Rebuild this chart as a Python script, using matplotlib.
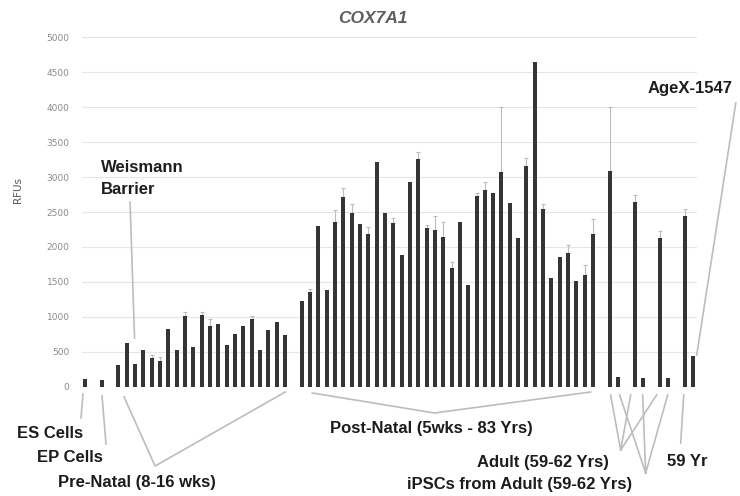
import numpy as np
import matplotlib
matplotlib.use("Agg")
import matplotlib.pyplot as plt

# ---------------- data ----------------
es_vals = [110]
ep_vals = [95]
prenatal_vals = [310, 630, 325, 525, 405, 372, 820, 525, 1010, 572, 1025,
                 868, 897, 597, 750, 868, 975, 525, 811, 921, 740]
prenatal_err = [0, 0, 0, 0, 50, 60, 0, 0, 60, 0, 40,
                100, 0, 0, 0, 0, 30, 0, 0, 0, 0]
postnatal_vals = [1226, 1360, 2300, 1384, 2362, 2710, 2481, 2324, 2185, 3211,
                  2481, 2347, 1885, 2934, 3258, 2267, 2242, 2138, 1694, 2362,
                  1455, 2729, 2815, 2767, 3077, 2633, 2123, 3162, 4642, 2538,
                  1551, 1851, 1918, 1512, 1598, 2185]
postnatal_err = [0, 40, 0, 0, 160, 130, 140, 0, 100, 0,
                 0, 70, 0, 0, 100, 50, 200, 220, 95, 0,
                 0, 50, 120, 0, 920, 0, 0, 105, 0, 75,
                 0, 0, 110, 0, 150, 210]
adult_vals = [3087, 2639, 2132]
adult_err = [920, 100, 90]
ipsc_vals = [135, 120, 120]
yr59_vals = [2443]
yr59_err = [100]
agex_vals = [444]

yticks = [0, 500, 1000, 1500, 2000, 2500, 3000, 3500, 4000, 4500, 5000]
title = "COX7A1"
ylabel = "RFUs"

# ---------------- layout ----------------
W, H = 740, 496
fig = plt.figure(figsize=(W / 100, H / 100), dpi=100)
ax = fig.add_axes([82 / W, 1 - 386.7 / H, (697 - 82) / W, (386.7 - 37.3) / H])

es_x = np.array([0])
ep_x = np.array([2])
pre_x = 4 + np.arange(len(prenatal_vals))
post_x = 26 + np.arange(len(postnatal_vals))
adult_x = np.array([63, 66, 69])
ipsc_x = np.array([64, 67, 70])
yr59_x = np.array([72])
agex_x = np.array([73])

bar_color = "#353535"
err_color = "#bcbcbc"
bw = 0.48

groups = [
    (es_x, es_vals, None),
    (ep_x, ep_vals, None),
    (pre_x, prenatal_vals, prenatal_err),
    (post_x, postnatal_vals, postnatal_err),
    (adult_x, adult_vals, adult_err),
    (ipsc_x, ipsc_vals, None),
    (yr59_x, yr59_vals, yr59_err),
    (agex_x, agex_vals, None),
]
for xs, vals, errs in groups:
    ax.bar(xs, vals, width=bw, color=bar_color, zorder=3)
    if errs is not None:
        xs_a = np.asarray(xs)
        v = np.asarray(vals, float)
        e = np.asarray(errs, float)
        m = e > 0
        if m.any():
            ax.errorbar(xs_a[m], v[m], yerr=[np.zeros(m.sum()), e[m]],
                        fmt="none", ecolor=err_color, elinewidth=0.8,
                        capsize=1.5, capthick=0.8, zorder=2)

ax.set_xlim(-0.36, 73.47)
ax.set_ylim(0, 5000)
ax.set_yticks(yticks)
ax.set_yticklabels([str(t) for t in yticks], fontsize=6.5, color="#8a8a8a",
                   family="DejaVu Sans")
ax.set_xticks([])
ax.tick_params(axis="y", length=0, pad=9)
for s in ax.spines.values():
    s.set_visible(False)
ax.grid(axis="y", color="#e6e6e6", linewidth=0.8, zorder=0)
ax.set_axisbelow(True)

fig.text(18 / W, 1 - 190 / H, ylabel, rotation=90, ha="center", va="center",
         fontsize=7.5, color="#555555", family="DejaVu Sans")
fig.text(373 / W, 1 - 18.5 / H, title, ha="center", va="center",
         fontsize=12.5, color="#5e5e5e", style="italic", weight="bold",
         family="Liberation Sans")

# ---------------- annotations ----------------
lab_kw = dict(fontsize=12, weight="bold", color="#1c1c1c",
              family="Liberation Sans", va="center", ha="left")
fig.text(101 / W, 1 - 167 / H, "Weismann", **lab_kw)
fig.text(101 / W, 1 - 190 / H, "Barrier", **lab_kw)
fig.text(648 / W, 1 - 89 / H, "AgeX-1547", **lab_kw)
fig.text(17 / W, 1 - 433 / H, "ES Cells", **lab_kw)
fig.text(37 / W, 1 - 458 / H, "EP Cells", **lab_kw)
fig.text(58 / W, 1 - 482 / H, "Pre-Natal (8-16 wks)", **lab_kw)
fig.text(330 / W, 1 - 429 / H, "Post-Natal (5wks - 83 Yrs)", **lab_kw)
fig.text(477 / W, 1 - 462 / H, "Adult (59-62 Yrs)", **lab_kw)
fig.text(407 / W, 1 - 485 / H, "iPSCs from Adult (59-62 Yrs)", **lab_kw)
fig.text(667 / W, 1 - 462 / H, "59 Yr", **lab_kw)

line_kw = dict(color="#bdbdbd", linewidth=1.2, clip_on=False, zorder=1)


def px2data(px, py):
    return ((px - 85) / 8.32, (386.7 - py) * 14.31)


def poly(points):
    pts = [px2data(*p) for p in points]
    ax.plot([p[0] for p in pts], [p[1] for p in pts], **line_kw)


poly([(130, 202), (134.5, 338)])                 # Weismann barrier
poly([(735, 103), (696, 355)])                   # AgeX
poly([(83, 394), (81, 418)])                     # ES
poly([(102, 396), (106, 444)])                   # EP
poly([(124, 397), (155, 466), (285, 392)])       # pre-natal
poly([(312, 393), (434, 413), (590, 392)])       # post-natal
for top in (610, 630, 656):                      # adult
    poly([(top, 395), (620, 450)])
for top in (619, 642, 667):                      # iPSC
    poly([(top, 395), (645, 473)])
poly([(683, 395), (680, 443)])                   # 59 Yr

fig.savefig("out.png", dpi=100)
